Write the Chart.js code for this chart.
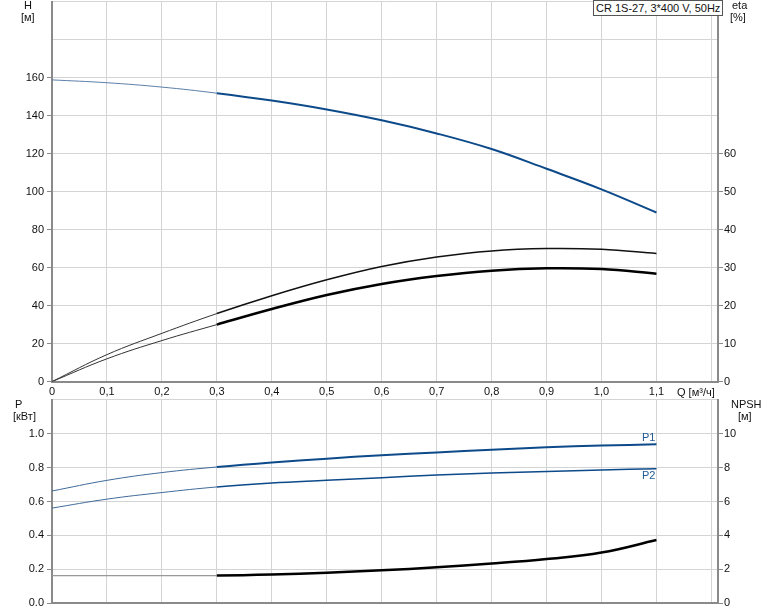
<!DOCTYPE html>
<html><head><meta charset="utf-8">
<script src="https://cdn.jsdelivr.net/npm/chart.js@4/dist/chart.umd.min.js"></script>
<style>
html,body{margin:0;padding:0;background:#fff;}
body{width:774px;height:611px;position:relative;overflow:hidden;font-family:"Liberation Sans",Arial,sans-serif;font-size:11px;color:#111;}
canvas{position:absolute;left:0;}
.t{position:absolute;white-space:nowrap;line-height:11px;}
</style></head><body>
<canvas id="c1" width="774" height="408" style="top:-8px"></canvas>
<canvas id="c2" width="774" height="224" style="top:390px"></canvas>
<div class="t" style="left:24px;top:0px;">H</div>
<div class="t" style="left:21px;top:12px;">[м]</div>
<div class="t" style="left:732px;top:0px;">eta</div>
<div class="t" style="left:730px;top:12px;">[%]</div>
<div class="t" style="left:15px;top:399px;">P</div>
<div class="t" style="left:13px;top:411px;">[кВт]</div>
<div class="t" style="left:731px;top:399px;">NPSH</div>
<div class="t" style="left:738px;top:411px;">[м]</div>
<div class="t" style="left:677px;top:387px;">Q [м³/ч]</div>
<div class="t" style="left:593px;top:0px;border:1px solid #555;background:#fff;padding:2px 2px 1px 2px;">CR 1S-27, 3*400 V, 50Hz</div>
<div class="t" style="left:642px;top:432px;color:#1f5a96;">P1</div>
<div class="t" style="left:642px;top:470px;color:#1f5a96;">P2</div>
<script>
const Q = [0, 0.1, 0.2, 0.3, 0.4, 0.5, 0.6, 0.7, 0.8, 0.9, 1.0, 1.1];
const H = [158.8, 157.3, 155.0, 151.8, 147.9, 143.2, 137.5, 130.6, 122.4, 112.0, 101.2, 89.0];
const etaUpper = [0, 7.1, 12.7, 17.9, 22.6, 26.8, 30.3, 32.8, 34.4, 35.0, 34.8, 33.7];
const etaLower = [0, 6.0, 10.8, 15.0, 19.1, 22.8, 25.7, 27.8, 29.2, 29.8, 29.6, 28.4];
const P1 = [0.662, 0.725, 0.771, 0.804, 0.831, 0.853, 0.874, 0.890, 0.906, 0.921, 0.931, 0.938];
const P2 = [0.561, 0.614, 0.653, 0.686, 0.709, 0.725, 0.741, 0.757, 0.768, 0.777, 0.786, 0.794];
const NPSH = [1.62, 1.62, 1.62, 1.62, 1.68, 1.79, 1.93, 2.11, 2.33, 2.60, 2.98, 3.72];
const xTickLabels = ["0","0,1","0,2","0,3","0,4","0,5","0,6","0,7","0,8","0,9","1,0","1,1"];

const SPLIT = 3;
function pts(ys){ return ys.map((y,i)=>({x:Q[i], y:y})); }
function curve(ys, axis, color, thinColor, thinW, thickW){
  return {data:pts(ys), yAxisID:axis, borderColor:color, borderWidth:thickW, pointRadius:0, tension:0.4, fill:false,
    segment:{
      borderColor:(c)=> c.p0DataIndex < SPLIT ? thinColor : color,
      borderWidth:(c)=> c.p0DataIndex < SPLIT ? thinW : thickW
    }};
}
const BLUE = '#0d4a8a';
const GRID = '#d2d4d6';
const AX = '#8a8a8a';
const font = {family:'"Liberation Sans", Arial, sans-serif', size:11};
Chart.defaults.font = font;
Chart.defaults.color = '#111';

const xMax = 1.212;

new Chart(document.getElementById('c1'), {
  type:'line',
  data:{datasets:[
    curve(H,'yL',BLUE,'#5b7fa8',1,2),
    curve(etaUpper,'yR','#111','#333',1,1.5),
    curve(etaLower,'yR','#000','#333',1,2.5)
  ]},
  options:{
    responsive:false, animation:false, devicePixelRatio:1,
    layout:{padding:{top:0,left:0,right:0,bottom:0}},
    plugins:{legend:{display:false}, tooltip:{enabled:false}},
    scales:{
      x:{type:'linear', min:0, max:xMax,
        afterBuildTicks:(s)=>{ s.ticks = [0,1,2,3,4,5,6,7,8,9,10,11,12].map(i=>({value:i/10})); },
        ticks:{autoSkip:false, maxRotation:0, padding:4, callback:(v,i)=> i<xTickLabels.length ? xTickLabels[i] : ''},
        grid:{color:GRID, drawTicks:false},
        border:{display:true, color:AX, width:2},
        afterFit:(s)=>{ s.height = 18.4; }
      },
      yL:{type:'linear', position:'left', min:0, max:200,
        ticks:{stepSize:20, padding:3, callback:(v)=> v<=160 ? String(v) : ''},
        grid:{color:GRID, tickLength:5, tickColor:(c)=> (c.tick && c.tick.value<=160) ? AX : 'rgba(0,0,0,0)'},
        border:{display:true, color:AX, width:2},
        afterFit:(s)=>{ s.width = 52; }
      },
      yR:{type:'linear', position:'right', min:0, max:100,
        ticks:{stepSize:10, padding:1, callback:(v)=> v<=60 ? String(v) : ''},
        grid:{drawOnChartArea:false, tickLength:5, tickColor:(c)=> (c.tick && c.tick.value<=60) ? AX : 'rgba(0,0,0,0)'},
        border:{display:true, color:AX, width:2},
        afterFit:(s)=>{ s.width = 56; }
      }
    }
  }
});

new Chart(document.getElementById('c2'), {
  type:'line',
  data:{datasets:[
    curve(P1,'yL',BLUE,'#3f6a9a',1,2),
    curve(P2,'yL',BLUE,'#3f6a9a',1,1.5),
    curve(NPSH,'yR','#000','#999',1.2,2.5)
  ]},
  options:{
    responsive:false, animation:false, devicePixelRatio:1,
    layout:{padding:{top:10,left:0,right:0,bottom:0}},
    plugins:{legend:{display:false}, tooltip:{enabled:false}},
    scales:{
      x:{type:'linear', min:0, max:xMax,
        afterBuildTicks:(s)=>{ s.ticks = [0,1,2,3,4,5,6,7,8,9,10,11,12].map(i=>({value:i/10})); },
        ticks:{display:false},
        grid:{color:GRID, drawTicks:false},
        border:{display:true, color:AX, width:2},
        afterFit:(s)=>{ s.height = 11; }
      },
      yL:{type:'linear', position:'left', min:0, max:1.2,
        afterBuildTicks:(s)=>{ s.ticks = [0,1,2,3,4,5,6].map(i=>({value:i*0.2})); },
        ticks:{padding:3, callback:(v)=> v<=1.0001 ? Number(v).toFixed(1) : ''},
        grid:{color:GRID, tickLength:5, tickColor:(c)=> (c.tick && c.tick.value<=1.0001) ? AX : 'rgba(0,0,0,0)'},
        border:{display:true, color:AX, width:2},
        afterFit:(s)=>{ s.width = 52; }
      },
      yR:{type:'linear', position:'right', min:0, max:12,
        ticks:{stepSize:2, padding:1, callback:(v)=> v<=10 ? String(v) : ''},
        grid:{drawOnChartArea:false, tickLength:5, tickColor:(c)=> (c.tick && c.tick.value<=10) ? AX : 'rgba(0,0,0,0)'},
        border:{display:true, color:AX, width:2},
        afterFit:(s)=>{ s.width = 56; }
      }
    }
  }
});
</script>
</body></html>
